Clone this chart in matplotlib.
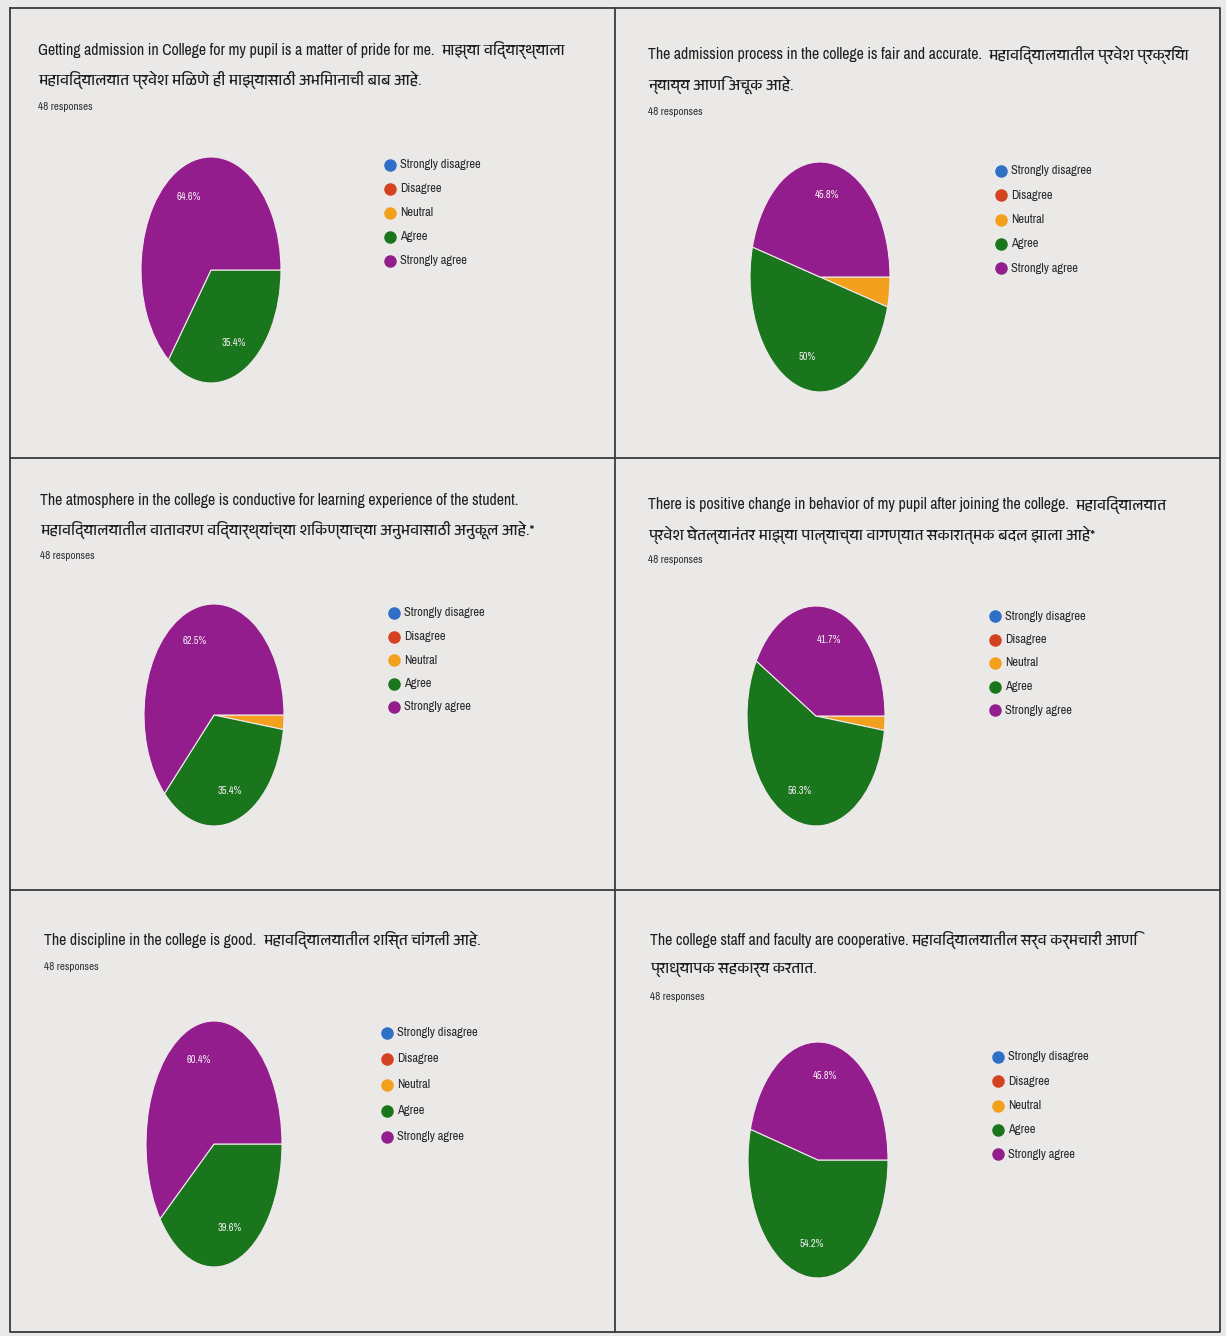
import matplotlib
matplotlib.use("Agg")
import matplotlib.pyplot as plt
from matplotlib import font_manager as fm
from matplotlib.ft2font import FT2Font

# ---- data ----
categories = ["Strongly disagree", "Disagree", "Neutral", "Agree", "Strongly agree"]
colors = ["#2f6fc6", "#d4421f", "#f3a01c", "#1a761c", "#931d8c"]

titles = [
    ["Getting admission in College for my pupil is a matter of pride for me. माझ्या विद्यार्थ्याला महाविद्यालयात",
     "प्रवेश मिळणे ही माझ्यासाठी अभिमानाची बाब आहे."],
    ["The admission process in the college is fair and accurate. महाविद्यालयातील प्रवेश प्रक्रिया न्याय्य",
     "आणि अचूक आहे."],
    ["The atmosphere in the college is conductive for learning experience of the student. महाविद्यालयातील",
     "वातावरण विद्यार्थ्यांच्या शिकण्याच्या अनुभवासाठी अनुकूल आहे.*"],
    ["There is positive change in behavior of my pupil after joining the college. महाविद्यालयात प्रवेश",
     "घेतल्यानंतर माझ्या पाल्याच्या वागण्यात सकारात्मक बदल झाला आहे*"],
    ["The discipline in the college is good. महाविद्यालयातील शिस्त चांगली आहे."],
    ["The college staff and faculty are cooperative.महाविद्यालयातील सर्व कर्मचारी आणि प्राध्यापक सहकार्य",
     "करतात."],
]
responses = ["48 responses"] * 6

# percentages for Strongly disagree, Disagree, Neutral, Agree, Strongly agree
q1 = [0, 0, 0, 35.4, 64.6]
q2 = [0, 0, 4.2, 50.0, 45.8]
q3 = [0, 0, 2.1, 35.4, 62.5]
q4 = [0, 0, 2.1, 56.3, 41.7]
q5 = [0, 0, 0, 39.6, 60.4]
q6 = [0, 0, 0, 54.2, 45.8]
values = [q1, q2, q3, q4, q5, q6]

# ---- fonts ----
deva = []
narrow = []
for f in fm.fontManager.ttflist:
    try:
        cmap = FT2Font(f.fname).get_charmap()
    except Exception:
        continue
    if 0x0915 in cmap and f.name not in deva:
        deva.append(f.name)
    if 0x41 in cmap and ("Narrow" in f.name or "Condensed" in f.name) and f.name not in narrow:
        narrow.append(f.name)
deva.sort(key=lambda n: "Devanagari" not in n)
base = narrow[0] if narrow else "Roboto"
plt.rcParams["font.family"] = [base] + deva + ["DejaVu Sans"]

W, H = 1226, 1336
fig = plt.figure(figsize=(W / 100, H / 100), dpi=100)
fig.patch.set_facecolor("#eae9e7")

bg = fig.add_axes([0, 0, 1, 1])
bg.set_xlim(0, W)
bg.set_ylim(H, 0)
bg.axis("off")

# panel grid lines
lc = "#3b3b3b"
bg.plot([10, 1220, 1220, 10, 10], [8, 8, 1332, 1332, 8], color=lc, lw=1.3)
bg.plot([615, 615], [8, 1332], color=lc, lw=1.3)
bg.plot([10, 1220], [458, 458], color=lc, lw=1.3)
bg.plot([10, 1220], [890, 890], color=lc, lw=1.3)

# title x, title y, responses y, pie cx, cy, rx, ry, legend x, legend y, legend step, right limit
layout = [
    (38, 50, 107, 211, 270, 70, 113, 390, 165, 24, 600),
    (648, 55, 112, 820, 277, 70, 115, 1001, 171, 24.3, 1205),
    (40, 500, 556, 214, 715, 70, 111, 394, 613, 23.5, 600),
    (648, 505, 560, 816, 716, 69, 110, 995, 616, 23.5, 1205),
    (44, 940, 967, 214, 1144, 68, 123, 387, 1033, 26, 600),
    (650, 940, 997, 818, 1160, 70, 118, 998, 1057, 24.3, 1205),
]

EN_SIZE = 11.4
DV_SIZE = 11
TXT = "#1e1e1e"


def make_label(total):
    # autopct gets the normalised share; give back the survey's own figure
    def lab(p):
        v = p * total / 100
        return f"{v:.1f}%".replace(".0%", "%") if v >= 5 else ""
    return lab


renderer = fig.canvas.get_renderer()


def right(t):
    return t.get_window_extent(renderer).x1


def split(s):
    for n, ch in enumerate(s):
        if 0x0900 <= ord(ch) <= 0x097F:
            return s[:n], s[n:]
    return s, ""


for i, (tx, ty, ry_, cx, cy, rx, ry, lx, ly, ls, xmax) in enumerate(layout):
    en, dv = split(titles[i][0])
    t_en = bg.text(tx, ty, en, fontsize=EN_SIZE, color=TXT, va="center", ha="left")
    x1 = right(t_en)
    words = dv.split(" ")
    carry = []
    t_dv = bg.text(x1 + 3, ty, " ".join(words), fontsize=DV_SIZE, color=TXT, va="center", ha="left")
    while words and right(t_dv) > xmax:
        carry.insert(0, words.pop())
        t_dv.set_text(" ".join(words))
    rest = titles[i][1:]
    if carry:
        if rest:
            rest = [" ".join(carry) + " " + rest[0]] + rest[1:]
        else:
            rest = [" ".join(carry)]
    for j, line in enumerate(rest, start=1):
        bg.text(tx, ty + j * 30, line, fontsize=DV_SIZE, color=TXT, va="center", ha="left")

    bg.text(tx, ry_, responses[i], fontsize=8, color="#333333", va="center", ha="left")

    # legend
    for k, (cat, col) in enumerate(zip(categories, colors)):
        y = ly + k * ls
        bg.plot(lx, y, "o", color=col, ms=8)
        bg.text(lx + 10, y, cat, fontsize=9, color="#2a2a2a", va="center", ha="left")

    ax = fig.add_axes([(cx - rx) / W, 1 - (cy + ry) / H, 2 * rx / W, 2 * ry / H])
    ax.pie(values[i], colors=colors, startangle=0, counterclock=False,
           autopct=make_label(sum(values[i])), pctdistance=0.72,
           wedgeprops=dict(edgecolor="#f2e9ee", linewidth=0.8),
           textprops=dict(color="#f4eef4", fontsize=7.5))
    ax.set_aspect("auto")
    ax.set_xlim(-1, 1)
    ax.set_ylim(-1, 1)
    ax.axis("off")

fig.savefig("out.png", dpi=100, facecolor=fig.get_facecolor())
